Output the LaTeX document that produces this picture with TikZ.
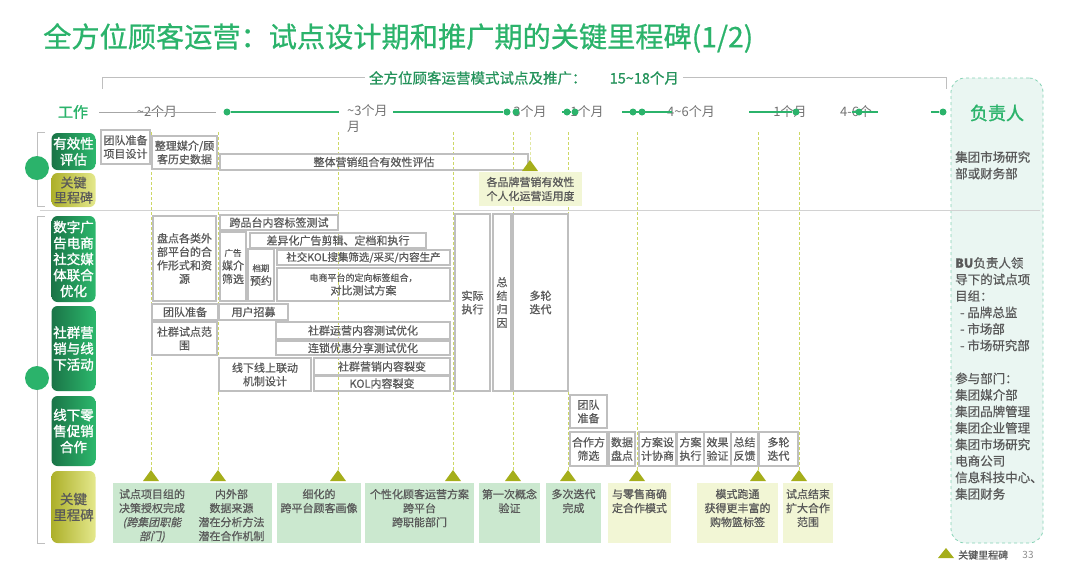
\documentclass[tikz,border=0pt]{standalone}
\usepackage{fontspec}
\setmainfont{Noto Sans CJK SC}[BoldFont={Noto Sans CJK SC},BoldFeatures={FakeBold=1.5},
  ItalicFont={Noto Sans CJK SC},ItalicFeatures={FakeSlant=0.2}]
\newfontfamily\medfont{Noto Sans CJK SC}[FakeBold=0.7,
  ItalicFont={Noto Sans CJK SC},ItalicFeatures={FakeSlant=0.2,FakeBold=0.7}]
\definecolor{ttlgreen}{HTML}{2BB36B}
\definecolor{subgreen}{HTML}{23925A}
\definecolor{dkgreen}{HTML}{1A7447}
\definecolor{ltgreen}{HTML}{2CB86C}
\definecolor{olivedk}{HTML}{ADB02A}
\definecolor{olivelt}{HTML}{E4E88C}
\definecolor{milemark}{HTML}{A5AE1B}
\definecolor{guideclr}{HTML}{CDD765}
\definecolor{boxgray}{HTML}{BFBFBF}
\definecolor{txtgray}{HTML}{595959}
\definecolor{msgreen}{HTML}{CBE8CF}
\definecolor{msyellow}{HTML}{F2F6D5}
\definecolor{panelfill}{HTML}{EAF6F2}
\definecolor{panelline}{HTML}{86D2B5}
\definecolor{dotgreen}{HTML}{2BB36B}
\newcommand{\tld}{\textasciitilde}
\newcommand{\tbox}[6]{% name, left, top, right, bottom, text
  \node[task, minimum width={(#4-#2)*1pt}, minimum height={(#5-#3)*1pt}]
    (#1) at ({(#2+#4)/2},{(#3+#5)/2}) {#6};}
\newcommand{\msbox}[5]{% name, left, right, fill, text
  \node[msbase, fill=#4, minimum width={(#3-#2)*1pt}] (#1) at ({(#2+#3)/2},513) {};
  \node[mstext] (#1txt) at (#1.north) {#5};}
\newcommand{\glabel}[5]{% name, top, bottom, style, text
  \node[#4, minimum height={(#3-#2)*1pt}] (#1) at (73.5,{(#2+#3)/2}) {#5};}

\begin{document}
\begin{tikzpicture}[x=1pt, y=-1pt,
  every node/.style={inner sep=1pt, text=txtgray},
  task/.style={draw=boxgray, line width=1.1pt, align=center, inner sep=0pt,
    font=\medfont\fontsize{11}{13.5}\selectfont},
  grp/.style={rounded corners=6pt, left color=dkgreen, right color=ltgreen, text=white,
    align=center, minimum width=44pt, inner sep=0pt, font=\bfseries\fontsize{13.5}{16}\selectfont},
  keybox/.style={grp, left color=olivedk, right color=olivelt, text=txtgray},
  msbase/.style={minimum height=60pt, inner sep=0pt},
  mstext/.style={anchor=north, align=center, yshift=-5pt, font=\medfont\fontsize{11}{14}\selectfont},
  guide/.style={guideclr, dash pattern=on 3pt off 2pt, line width=1pt},
  mile/.style={fill=milemark},
  tl/.style={text=txtgray!85, font=\fontsize{13}{16}\selectfont},
  tlline/.style={dotgreen, line width=1.6pt},
  tlgray/.style={gray!70, line width=1pt},
  tdot/.style={circle, fill=dotgreen, inner sep=0pt, minimum size=7pt},
  bracket/.style={boxgray, line width=1pt},
  panel/.style={draw=panelline, dashed, fill=panelfill, rounded corners=14pt,
    minimum width=92pt, minimum height=465pt, line width=0.8pt},
  ]
\useasboundingbox (0,0) rectangle (1080,568);

% Title and overall span
\node[anchor=west, text=ttlgreen, font=\medfont\fontsize{28.2}{31}\selectfont] (title) at (42,38)
  {全方位顾客运营：试点设计期和推广期的关键里程碑(1/2)};
\draw[bracket] (102,89) -- (102,77) -- (946,77) -- (946,89);
\node[fill=white, inner sep=4pt, text=subgreen, font=\medfont\fontsize{14.5}{16}\selectfont] (span) at (524,78)
  {全方位顾客运营模式试点及推广：\hspace{1.6em}15\tld18个月};

% Owner panel
\node[panel] (resp) at (997,310.5) {};
\node[text=ttlgreen, font=\bfseries\fontsize{18}{20}\selectfont] (resphead) at (997,113) {负责人};
\node[anchor=north west, align=left, font=\medfont\fontsize{12.5}{16.5}\selectfont] (resp1) at (954,150)
  {集团市场研究\\部或财务部};
\node[anchor=north west, align=left, font=\medfont\fontsize{12.5}{16.5}\selectfont] (resp2) at (954,256)
  {\textbf{BU}负责人领\\导下的试点项\\目组：\\\hspace*{0.4em}- 品牌总监\\\hspace*{0.4em}- 市场部\\\hspace*{0.4em}- 市场研究部\\[16.5pt]
   参与部门：\\集团媒介部\\集团品牌管理\\集团企业管理\\集团市场研究\\电商公司\\信息科技中心、\\集团财务};

% Separator between the two phases
\draw[boxgray!70, line width=0.8pt] (40,210) -- (1040,210);

% Work timeline
\node[text=ttlgreen, font=\bfseries\fontsize{15}{17}\selectfont] (work) at (73,112) {工作};
\node[tl] (m2) at (157,112) {\tld2个月};
\node[tl, anchor=north west, align=left] (m3) at (346,103) {\tld3个月\\月};
\node[tl] (m3b) at (530,112) {3个月};
\node[tl] (m1a) at (587,112) {1个月};
\node[tl] (m46) at (691,112) {4\tld6个月};
\node[tl] (m1b) at (790,112) {1个月};
\node[tl] (m46b) at (856,112) {4-6个};
\foreach \i/\x in {1/227,2/507,3/516,4/567,5/575,6/633,7/642,8/796,9/859,10/943}
  \node[tdot] (d\i) at (\x,112) {};
\foreach \i/\x in {0/99,1/216,2/339,3/393,4/562,5/622,6/672,7/749,8/852,9/878,10/931}
  \coordinate (a\i) at (\x,112);
\draw[tlgray] (a0) -- (a1);
\draw[tlline] (d1) -- (a2);
\draw[tlline] (a3) -- (d2);
\draw[tlline] (a4) -- (d5);
\draw[tlline] (a5) -- (a6);
\draw[tlline] (a7) -- (d8);
\draw[tlline] (a8) -- (a9);
\draw[tlline] (a10) -- (d10);

% Row labels
\draw[bracket] (45,132) -- (37,132) -- (37,206) -- (45,206);
\draw[bracket] (45,216) -- (37,216) -- (37,543) -- (45,543);
\fill[dotgreen] (37,168) circle (12);
\fill[dotgreen] (37,378) circle (12);
\glabel{effect}{133}{170}{grp}{有效性\\评估}
\glabel{keyA}{173}{207}{keybox, font=\medfont\fontsize{13}{15}\selectfont}{关键\\里程碑}
\glabel{digital}{216}{302}{grp}{数字广\\告电商\\社交媒\\体联合\\优化}
\glabel{social}{306}{391}{grp}{社群营\\销与线\\下活动}
\glabel{retail}{396}{466}{grp}{线下零\\售促销\\合作}
\glabel{keyB}{471}{543}{keybox, font=\medfont\fontsize{13.5}{16}\selectfont}{关键\\里程碑}

% Milestone guides and marks
\foreach \x in {151,218,338,453,513,568,637,758,799}{
  \coordinate (gtop\x) at (\x,132);
  \coordinate (gtip\x) at (\x,470);
  \draw[guide] (gtop\x) -- (gtip\x);
  \fill[mile] (gtip\x) -- (\x+8,481) -- (\x-8,481) -- cycle;
}
\coordinate (gtopA) at (530,132);
\coordinate (gtipA) at (530,160);
\draw[guide, guideclr!60] (gtopA) -- (gtipA);

% Effectiveness evaluation
\tbox{prep1}{101}{130}{150}{164}{团队准备\\项目设计}
\tbox{media}{152}{136}{217}{169}{整理媒介/顾\\客历史数据}
\tbox{eval}{220}{154}{528}{170}{整体营销组合有效性评估}
\fill[mile] (gtipA) -- (538,171) -- (522,171) -- cycle;
\node[fill=msyellow, minimum width=103pt, minimum height=34pt, align=center,
  font=\medfont\fontsize{11}{14}\selectfont] (msTop) at (530.5,189) {各品牌营销有效性\\个人化运营适用度};

% Digital ads, e-commerce and social media
\tbox{inv}{153}{216}{216}{301}{盘点各类外\\部平台的合\\作形式和资\\源}
\tbox{tag}{220}{215}{338}{230}{跨品台内容标签测试}
\tbox{adsel}{220}{232}{246}{301}{\fontsize{8.5}{17}\selectfont 广告\\媒介\\筛选}
\tbox{diff}{250}{233}{426}{248}{差异化广告剪辑、定档和执行}
\tbox{sched}{248}{249}{274}{301}{\fontsize{8.5}{17}\selectfont 档期\\预约}
\tbox{kol}{277}{250}{450}{265}{\fontsize{10.5}{12}\selectfont 社交KOL搜集筛选/采买/内容生产}
\tbox{ecom}{277}{268}{450}{301}{\fontsize{9}{11}\selectfont 电商平台的定向标签组合，\\对比测试方案}

% Community marketing and offline events
\tbox{prep2}{152}{304}{218}{320}{团队准备}
\tbox{recruit}{219}{304}{288}{320}{用户招募}
\tbox{scope}{152}{322}{217}{355}{社群试点范\\围}
\tbox{comm}{276}{322}{450}{339}{社群运营内容测试优化}
\tbox{chain}{276}{341}{450}{355}{连锁优惠分享测试优化}
\tbox{o2o}{219}{358}{311}{391}{线下线上联动\\机制设计}
\tbox{fiss}{314}{358}{450}{375}{社群营销内容裂变}
\tbox{kolf}{314}{376}{450}{391}{KOL内容裂变}
\tbox{exec}{455}{214}{490}{391}{实际\\执行}
\tbox{summ}{493}{214}{511}{391}{总\\结\\归\\因}
\tbox{iter}{513}{214}{568}{391}{多轮\\迭代}

% Offline retail promotion
\tbox{prep3}{570}{395}{607}{428}{团队\\准备}
\tbox{partner}{570}{432}{607}{466}{合作方\\筛选}
\tbox{data}{609}{432}{635}{466}{数据\\盘点}
\tbox{plan}{639}{432}{676}{466}{方案设\\计协商}
\tbox{run}{677}{432}{704}{466}{方案\\执行}
\tbox{verify}{704}{432}{731}{466}{效果\\验证}
\tbox{fb}{731}{432}{758}{466}{总结\\反馈}
\tbox{iterB}{759}{432}{798}{466}{多轮\\迭代}

% Key milestones
\msbox{msA}{113}{191}{msgreen}{试点项目组的\\决策授权完成\\\textit{(跨集团职能}\\\textit{部门)}}
\msbox{msB}{191}{272}{msgreen}{内外部\\数据来源\\潜在分析方法\\潜在合作机制}
\msbox{msC}{277}{361}{msgreen}{细化的\\跨平台顾客画像}
\msbox{msD}{365}{474}{msgreen}{个性化顾客运营方案\\跨平台\\跨职能部门}
\msbox{msE}{479}{540}{msgreen}{第一次概念\\验证}
\msbox{msF}{546}{601}{msgreen}{多次迭代\\完成}
\msbox{msG}{608}{671}{msyellow}{与零售商确\\定合作模式}
\msbox{msH}{697}{778}{msyellow}{模式跑通\\获得更丰富的\\购物篮标签}
\msbox{msI}{783}{833}{msyellow}{试点结束\\扩大合作\\范围}

% Legend
\coordinate (legtip) at (946,548);
\fill[mile] (legtip) -- (954,558) -- (938,558) -- cycle;
\node[anchor=west, font=\medfont\fontsize{10}{12}\selectfont] (legtext) at (957,555) {关键里程碑};
\node[text=txtgray!70, font=\fontsize{10}{12}\selectfont] (page) at (1028,555) {33};

\end{tikzpicture}
\end{document}
